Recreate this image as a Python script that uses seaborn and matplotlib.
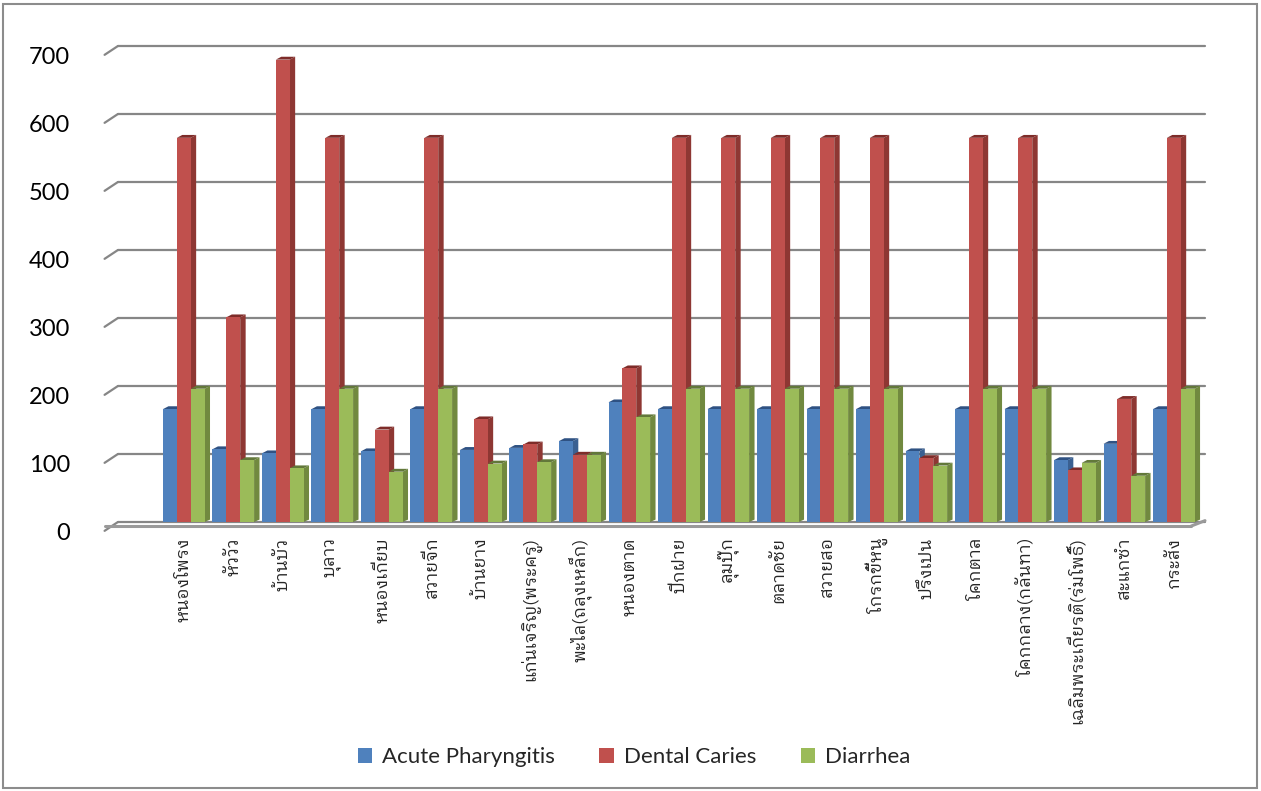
import numpy as np
import pandas as pd
import seaborn as sns
import matplotlib
matplotlib.use("Agg")
import matplotlib.pyplot as plt
import matplotlib.transforms as mtransforms
from matplotlib import font_manager
from matplotlib.ft2font import FT2Font
from matplotlib.patches import Polygon, Rectangle

sites = ["หนองโพรง", "หัววัว", "บ้านบัว", "บุลาว", "หนองเกียบ", "สวายจีก", "บ้านยาง",
         "แก่นเจริญ(พระครู)", "พะไล(ถลุงเหล็ก)", "หนองตาด", "ปีกฝาย", "ลุมปุ๊ก", "ตลาดชัย",
         "สวายสอ", "โกรกขี้หนู", "ปรึงเปน", "โคกตาล", "โคกกลาง(กลันทา)",
         "เฉลิมพระเกียรติ(ร่มโพธิ์)", "สะแกซำ", "กระสัง"]
diseases = ["Acute Pharyngitis", "Dental Caries", "Diarrhea"]
acute = [166, 107, 101, 166, 104, 166, 106, 109, 119, 176, 166, 166, 166, 166, 166, 104, 166, 166, 91, 115, 166]
dental = [565, 301, 680, 565, 136, 565, 151, 114, 99, 226, 565, 565, 565, 565, 565, 94, 565, 565, 76, 181, 565]
diarrhea = [196, 91, 79, 196, 74, 196, 86, 88, 99, 154, 196, 196, 196, 196, 196, 83, 196, 196, 87, 68, 196]
yticks = [0, 100, 200, 300, 400, 500, 600, 700]

front_colors = ["#4F81BD", "#C0504D", "#9BBB59"]
side_colors = ["#3A6091", "#8E3733", "#71893F"]
top_colors = ["#2F5283", "#7E2C29", "#62783A"]

# find a font with Thai glyphs
thai_font = None
preferred = []
for f in font_manager.fontManager.ttflist:
    try:
        cm = FT2Font(f.fname).get_charmap()
    except Exception:
        continue
    if ord("ก") in cm and ord("์") in cm:
        preferred.append(f.name)
for cand in preferred:
    if "Thai" in cand and "Looped" in cand:
        thai_font = cand
        break
if thai_font is None and preferred:
    thai_font = preferred[0]
thai_family = [thai_font, "DejaVu Sans"] if thai_font else ["DejaVu Sans"]

sns.set_theme(style="white")
plt.rcParams["font.family"] = ["Lato", "DejaVu Sans"]

df = pd.DataFrame({
    "site": np.repeat(sites, 3),
    "disease": diseases * len(sites),
    "value": np.ravel(np.column_stack([acute, dental, diarrhea])),
})

fig = plt.figure(figsize=(12.61, 7.91), dpi=100)
ax = fig.add_axes([112 / 1261, 1 - 522 / 791, (1205 - 112) / 1261, (522 - 46) / 791])

sns.barplot(data=df, x="site", y="value", hue="disease", order=sites, hue_order=diseases,
            palette=front_colors, saturation=1, width=0.84, edgecolor="none", linewidth=0,
            ax=ax, legend=False, zorder=3, errorbar=None)

ax.set_xlim(-1.45, 20.63)
ax.set_ylim(0, 700)

# 3D depth faces derived from drawn bars
dx = 0.11
dy = 7.0
for ci, cont in enumerate(ax.containers):
    for bar in cont:
        x0 = bar.get_x()
        w = bar.get_width()
        h = bar.get_height()
        x1 = x0 + w
        side = Polygon([(x1, 0), (x1 + dx, dy * 0.5), (x1 + dx, h + dy * 0.6), (x1, h)],
                       closed=True, facecolor=side_colors[ci], edgecolor="none", zorder=2.5)
        top = Polygon([(x0, h), (x0 + dx, h + dy * 0.6), (x1 + dx, h + dy * 0.6), (x1, h)],
                      closed=True, facecolor=top_colors[ci], edgecolor="none", zorder=2.5)
        ax.add_patch(side)
        ax.add_patch(top)

# gridlines with slanted front edges
for v in yticks:
    ax.plot([-1.33, 20.63], [v, v], color="#868686", lw=1.6, zorder=1, clip_on=False)
    ax.plot([-1.60, -1.33], [v - 13, v], color="#868686", lw=1.6, zorder=1, clip_on=False)
# floor front edge
ax.plot([-1.60, 20.35], [-6, -6], color="#9A9A9A", lw=2.2, zorder=1, clip_on=False)
ax.plot([20.35, 20.63], [-6, 2], color="#9A9A9A", lw=2.2, zorder=1, clip_on=False)

for s in ax.spines.values():
    s.set_visible(False)
ax.grid(False)

ax.set_yticks(yticks)
ax.set_yticklabels([str(v) for v in yticks], fontsize=17, color="#000000")
ax.tick_params(axis="y", length=0, pad=30)
off = mtransforms.ScaledTranslation(0, -9 / 100, fig.dpi_scale_trans)
for lab in ax.get_yticklabels():
    lab.set_transform(lab.get_transform() + off)

ax.set_xticks(range(len(sites)))
ax.set_xticklabels(sites, rotation=90, fontsize=12.5, family=thai_family, va="top", ha="center")
ax.tick_params(axis="x", length=0, pad=11)
ax.set_xlabel("")
ax.set_ylabel("")

handles = [Rectangle((0, 0), 1, 1, facecolor=c, edgecolor="none") for c in front_colors]
fig.legend(handles, diseases, loc="center", bbox_to_anchor=(634 / 1261, 1 - 757 / 791),
           ncol=3, frameon=False, fontsize=16, handlelength=0.65, handleheight=0.65,
           columnspacing=2.0, handletextpad=0.45)

fig.patches.append(Rectangle((3 / 1261, 3 / 791), 1 - 7 / 1261, 1 - 7 / 791,
                             transform=fig.transFigure, fill=False, edgecolor="#8C8C8C", lw=1.5))

fig.savefig("out.png", dpi=100)
